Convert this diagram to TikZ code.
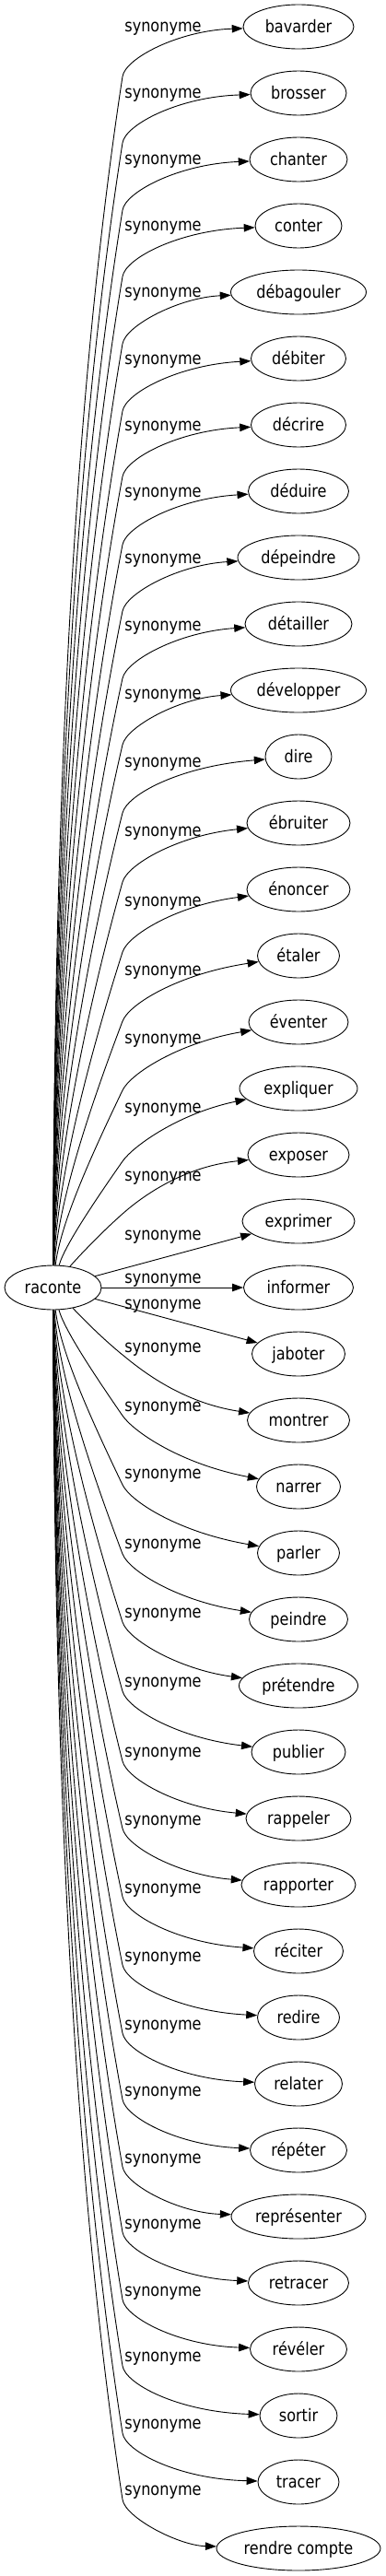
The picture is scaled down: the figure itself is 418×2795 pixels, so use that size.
\documentclass[tikz,border=0pt]{standalone}
\usepackage{fontspec}
\setmainfont{DejaVu Sans}[FakeStretch=0.86]
\usetikzlibrary{shapes.geometric,arrows.meta}
\begin{document}
\begin{tikzpicture}[x=1pt,y=-1pt,
  every node/.style={font=\fontsize{18.7}{22}\selectfont},
  term/.style={draw,ellipse,inner sep=0pt,minimum height=48pt,text height=13pt,text depth=1pt,line width=0.9pt},
  lbl/.style={inner sep=0pt,anchor=base},
  conn/.style={draw,line width=0.9pt,-{Triangle[length=12pt,width=8.5pt]}}]
\useasboundingbox (0,0) rectangle (418,2795);
\node[term,minimum width=105pt] (raconte) at (57.5,1397) {raconte};
\foreach \nA/\tA/\wA/\yA/\lA/\kA/\dA in {
  bavarder/bavarder/120/29/29/83/-1,
  brosser/brosser/104/101/101/155/-1,
  chanter/chanter/106/173/173/228/-1,
  conter/conter/94/245/245/300/-1,
  debagouler/débagouler/147/317/317/373/-1,
  debiter/débiter/103/389/390/446/-1,
  decrire/décrire/103/461/462/517/-1,
  deduire/déduire/109/533/534/591/-1,
  depeindre/dépeindre/132/605/606/663/-1,
  detailler/détailler/116/677/679/736/-1,
  developper/développer/147/749/753/808/-1,
  dire/dire/72/821/827/882/-1,
  ebruiter/ébruiter/112/893/902/957/-1,
  enoncer/énoncer/112/965/978/1033/-1,
  etaler/étaler/89/1037/1053/1108/-1,
  eventer/éventer/108/1109/1127/1183/-1,
  expliquer/expliquer/128/1181/1202/1260/-1,
  exposer/exposer/110/1253/1276/1317/-1,
  exprimer/exprimer/122/1325/1340/0/0,
  informer/informer/119/1397/1387/0/0,
  jaboter/jaboter/101/1469/1415/0/0,
  montrer/montrer/111/1541/1462/1470/1,
  narrer/narrer/91/1613/1526/1536/1,
  parler/parler/89/1685/1599/1611/1,
  peindre/peindre/107/1757/1675/1686/1,
  pretendre/prétendre/129/1829/1750/1760/1,
  publier/publier/102/1901/1825/1835/1,
  rappeler/rappeler/114/1973/1901/1911/1,
  rapporter/rapporter/124/2045/1975/1984/1,
  reciter/réciter/97/2117/2049/2058/1,
  redire/redire/89/2189/2123/2132/1,
  relater/relater/95/2261/2197/2206/1,
  repeter/répéter/105/2333/2269/2278/1,
  representer/représenter/146/2405/2342/2351/1,
  retracer/retracer/109/2477/2413/2422/1,
  reveler/révéler/105/2549/2486/2495/1,
  sortir/sortir/84/2621/2557/2567/1,
  tracer/tracer/88/2693/2630/2640/1,
  rendrecompte/rendre compte/178/2765/2702/2712/1}{
  \node[term,minimum width=\wA pt] (\nA) at (324,\yA) {\tA};
  \node[lbl] (lab\nA) at (177,\lA+5.5) {synonyme};
  \ifnum\dA=0
    \draw[conn] (raconte) -- (\nA);
  \else
    \pgfmathsetmacro\hB{abs(\kA-1397)}
    \pgfmathsetmacro\dB{abs(\yA-\kA)}
    \pgfmathsetmacro\xB{min(1700/\hB,25)}
    \pgfmathsetmacro\aB{1397+\dA*0.33*\hB}
    \pgfmathsetmacro\gB{25+0.027*\hB}
    \pgfmathsetmacro\bB{\kA-\dA*0.3*\hB}
    \pgfmathsetmacro\rB{\gB/(0.3*\hB)}
    \pgfmathsetmacro\sB{20/sqrt(1+\rB*\rB)}
    \pgfmathsetmacro\pB{133+\rB*\sB}
    \pgfmathsetmacro\qB{\kA+\dA*\sB}
    \pgfmathsetmacro\fB{4+(\dB-54)*0.92}
    \pgfmathsetmacro\eB{\yA-\dA*\fB}
    \draw[conn] (raconte) .. controls (57.5+\xB,\aB) and (133-\gB,\bB) .. (133,\kA)
      .. controls (\pB,\qB) and (194,\eB) .. (\nA);
  \fi
}
\end{tikzpicture}
\end{document}
